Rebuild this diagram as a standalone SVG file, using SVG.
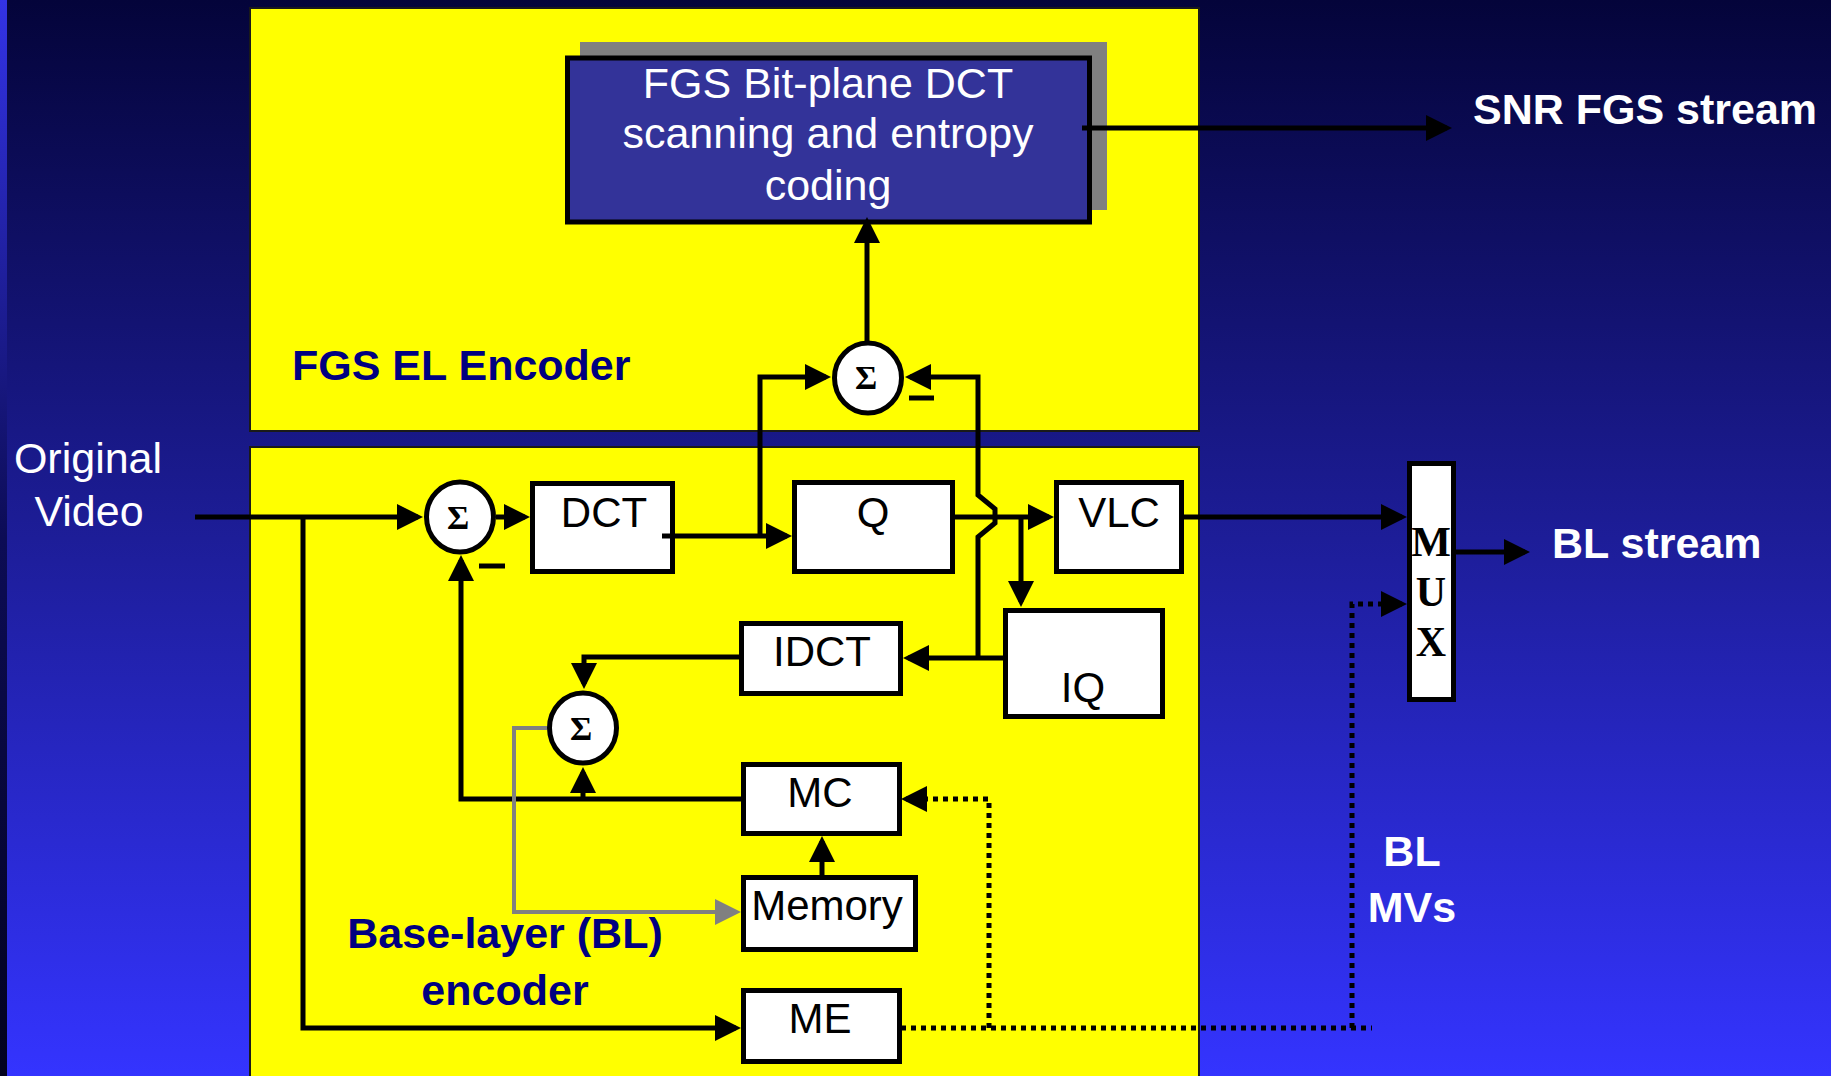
<svg xmlns="http://www.w3.org/2000/svg" width="1831" height="1076" viewBox="0 0 1831 1076">
<defs>
<linearGradient id="bg" x1="0" y1="0" x2="0" y2="1">
<stop offset="0" stop-color="#04043a"/>
<stop offset="0.5" stop-color="#1d1d98"/>
<stop offset="1" stop-color="#3434ff"/>
</linearGradient>
<linearGradient id="strip" x1="0" y1="0" x2="0" y2="1">
<stop offset="0" stop-color="#3333e6"/>
<stop offset="0.5" stop-color="#0c0c55"/>
<stop offset="1" stop-color="#02021e"/>
</linearGradient>
<marker id="ah" markerUnits="userSpaceOnUse" markerWidth="27" markerHeight="27" refX="21" refY="13" orient="auto">
<path d="M0,0 L26,13 L0,26 z" fill="#000"/>
</marker>
<marker id="ahg" markerUnits="userSpaceOnUse" markerWidth="27" markerHeight="27" refX="21" refY="13" orient="auto">
<path d="M0,0 L26,13 L0,26 z" fill="#808080"/>
</marker>
<style>
.panel{fill:#ffff00;stroke:#1a1a1a;stroke-width:2}
.box{fill:#fff;stroke:#000;stroke-width:5}
.sum{fill:#fff;stroke:#000;stroke-width:5}
.lbl{font-family:"Liberation Sans",Arial,sans-serif;font-size:42px;fill:#000;text-anchor:middle}
.sig{font-family:"Liberation Serif","Times New Roman",serif;font-size:34px;font-weight:bold;fill:#000;text-anchor:middle}
.mux{font-family:"Liberation Serif","Times New Roman",serif;font-size:42px;font-weight:bold;fill:#000;text-anchor:middle}
.wb{font-family:"Liberation Sans",Arial,sans-serif;font-size:43px;font-weight:bold;fill:#fff}
.wr{font-family:"Liberation Sans",Arial,sans-serif;font-size:43px;fill:#fff;text-anchor:middle}
.nb{font-family:"Liberation Sans",Arial,sans-serif;font-size:43px;font-weight:bold;fill:#000080}
.ln{fill:none;stroke:#000;stroke-width:5}
.arr{marker-end:url(#ah)}
.gray{fill:none;stroke:#808080;stroke-width:4;marker-end:url(#ahg)}
.dot{fill:none;stroke:#000;stroke-width:5;stroke-dasharray:5 5}
</style>
</defs>
<rect x="0" y="0" width="1831" height="1076" fill="url(#bg)"/>
<rect x="0" y="0" width="7" height="1076" fill="url(#strip)"/>

<g id="el-panel">
<rect class="panel" x="250" y="8" width="949" height="423"/>
<text class="nb" x="292" y="380">FGS EL Encoder</text>
</g>
<g id="bl-panel">
<rect class="panel" x="250" y="447" width="949" height="640"/>
<text class="nb" x="505" y="948" text-anchor="middle">Base-layer (BL)</text>
<text class="nb" x="505" y="1005" text-anchor="middle">encoder</text>
</g>

<g id="fgs-coder">
<rect x="580" y="42" width="527" height="168" fill="#808080"/>
<rect x="567.5" y="58" width="522" height="164" fill="#333399" stroke="#000" stroke-width="5"/>
<text class="wr" font-size="44" x="828" y="98">FGS Bit-plane DCT</text>
<text class="wr" font-size="44" x="828" y="148">scanning and entropy</text>
<text class="wr" font-size="44" x="828" y="200">coding</text>
</g>
<g id="sum-el">
<ellipse class="sum" cx="868" cy="378" rx="33.5" ry="35"/>
<text class="sig" x="866" y="389">Σ</text>
</g>
<g id="sum-bl">
<ellipse class="sum" cx="460" cy="517" rx="33.5" ry="35"/>
<text class="sig" x="458" y="529">Σ</text>
</g>
<g id="sum-rec">
<ellipse class="sum" cx="583" cy="728" rx="33.5" ry="35"/>
<text class="sig" x="581" y="740">Σ</text>
</g>
<g id="dct">
<rect class="box" x="532.5" y="483.5" width="140" height="88"/>
<text class="lbl" x="604" y="527">DCT</text>
</g>
<g id="q">
<rect class="box" x="794.5" y="482.5" width="158" height="89"/>
<text class="lbl" x="873" y="527">Q</text>
</g>
<g id="vlc">
<rect class="box" x="1056.5" y="482.5" width="125" height="89"/>
<text class="lbl" x="1119" y="527">VLC</text>
</g>
<g id="iq">
<rect class="box" x="1005.5" y="610.5" width="157" height="106"/>
<text class="lbl" x="1083" y="702">IQ</text>
</g>
<g id="idct">
<rect class="box" x="741.5" y="623.5" width="159" height="70"/>
<text class="lbl" x="822" y="666">IDCT</text>
</g>
<g id="mc">
<rect class="box" x="743.5" y="764.5" width="156" height="69"/>
<text class="lbl" x="820" y="807">MC</text>
</g>
<g id="memory">
<rect class="box" x="743.5" y="877.5" width="172" height="72"/>
<text class="lbl" x="827" y="920">Memory</text>
</g>
<g id="me">
<rect class="box" x="743.5" y="990.5" width="156" height="71"/>
<text class="lbl" x="820" y="1033">ME</text>
</g>
<g id="mux">
<rect class="box" x="1409.5" y="463.5" width="44" height="236"/>
<text class="mux" x="1431" y="556">M</text>
<text class="mux" x="1431" y="606">U</text>
<text class="mux" x="1431" y="656">X</text>
</g>

<g id="connectors">
<path class="ln arr" d="M195,517 H418"/>
<path class="ln arr" d="M303,517 V1028 H736"/>
<path class="ln arr" d="M496,517 H525"/>
<path class="ln arr" d="M662,536 H787"/>
<path class="ln arr" d="M760,536 V377 H826"/>
<path class="ln arr" d="M867,341 V222"/>
<path class="ln arr" d="M978,657 V537 L995,523 V509 L978,495 V377 H910"/>
<path class="ln arr" d="M1082,128 H1447"/>
<path class="ln arr" d="M955,517 H1049"/>
<path class="ln arr" d="M1021,517 V602"/>
<path class="ln arr" d="M1183,517 H1402"/>
<path class="ln arr" d="M1456,552 H1525"/>
<path class="ln arr" d="M1003,658 H908"/>
<path class="ln arr" d="M739,657 H584 V684"/>
<path class="ln arr" d="M741,799 H461 V560"/>
<path class="ln arr" d="M583,799 V772"/>
<path class="ln arr" d="M822,875 V841"/>
<path class="gray" d="M547,728 H514 V912 H736"/>
<path class="dot" d="M901,1028 H1372"/>
<path class="dot arr" d="M1352,1028 V604 H1402"/>
<path class="dot arr" d="M989,1028 V799 H906"/>
<path class="ln" d="M479,566 H505"/>
<path class="ln" d="M909,398 H934"/>
</g>

<g id="labels">
<text class="wr" x="88" y="473">Original</text>
<text class="wr" x="89" y="526">Video</text>
<text class="wb" x="1473" y="124">SNR FGS stream</text>
<text class="wb" x="1552" y="558">BL stream</text>
<text class="wb" x="1412" y="866" text-anchor="middle">BL</text>
<text class="wb" x="1412" y="922" text-anchor="middle">MVs</text>
</g>
</svg>
